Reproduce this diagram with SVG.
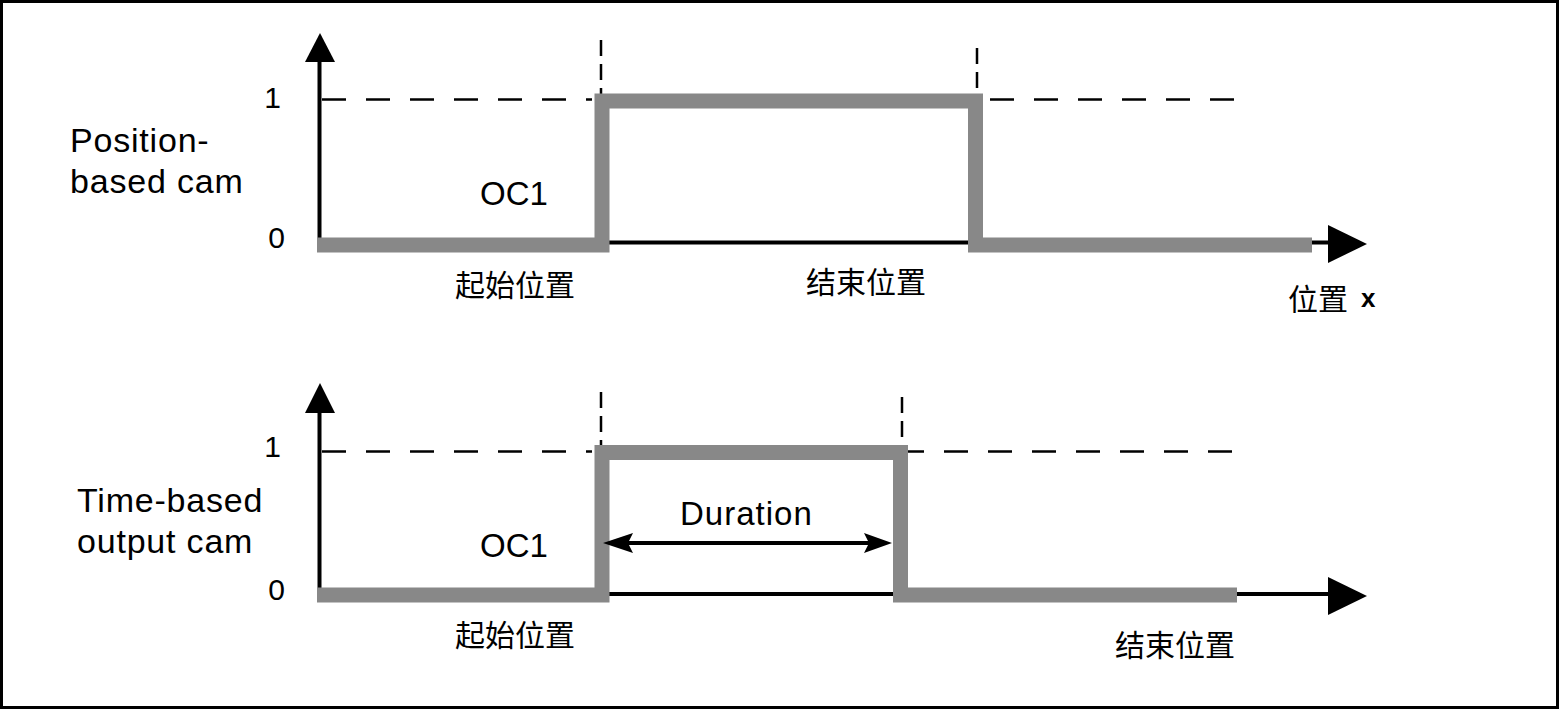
<svg xmlns="http://www.w3.org/2000/svg" width="1560" height="709" viewBox="0 0 1560 709">
<style>
.lbl{font-family:"Liberation Sans",Arial,sans-serif;fill:#000}
.wide{letter-spacing:0.8px}
.cjk{font-family:"Noto Sans CJK SC","Noto Sans CJK JP",sans-serif;font-size:30px;fill:#000}
.sig{fill:none;stroke:#888;stroke-width:15;stroke-linejoin:miter;stroke-linecap:butt}
.ax{stroke:#000;stroke-width:4;fill:none}
.hd{stroke:#000;stroke-width:2.5;fill:none;stroke-dasharray:24 20}
.vd{stroke:#000;stroke-width:2.5;fill:none;stroke-dasharray:16 8}
.ah{fill:#000}
</style>
<rect x="1.5" y="1.5" width="1556" height="706" fill="#fff" stroke="#000" stroke-width="3"/>

<g id="chart-top">
  <g id="top-grid">
    <path class="hd" d="M322 99.5H592"/>
    <path class="hd" d="M990 99.5H1237"/>
    <path class="vd" d="M601 40V108"/>
    <path class="vd" d="M977 48V117"/>
  </g>
  <g id="top-axes">
    <path class="ax" d="M319.5 60V245"/>
    <polygon class="ah" points="305,62 320,33 335,62"/>
    <path class="ax" d="M319 242.5H1330"/>
    <polygon class="ah" points="1328,225 1367,244 1328,263"/>
  </g>
  <g id="top-signal">
    <path class="sig" d="M317 245H602V101H975.5V245H1312"/>
  </g>
  <g id="top-labels">
    <text class="lbl" x="281" y="108" font-size="30" text-anchor="end">1</text>
    <text class="lbl" x="285" y="248" font-size="30" text-anchor="end">0</text>
    <text class="lbl wide" x="70" y="152" font-size="34">Position-</text>
    <text class="lbl wide" x="70" y="193" font-size="34">based cam</text>
    <text class="lbl" x="480" y="205" font-size="33">OC1</text>
    <text class="cjk" x="455" y="296">起始位置</text>
    <text class="cjk" x="806" y="293">结束位置</text>
    <text class="cjk" x="1288" y="310">位置</text>
    <text class="lbl" x="1361" y="307" font-size="26" font-weight="bold">x</text>
  </g>
</g>

<g id="chart-bottom">
  <g id="bottom-grid">
    <path class="hd" d="M322 451.5H592"/>
    <path class="hd" d="M900 451.5H1237"/>
    <path class="vd" d="M601 392V460"/>
    <path class="vd" d="M902 397V467"/>
  </g>
  <g id="bottom-axes">
    <path class="ax" d="M319.5 411V597"/>
    <polygon class="ah" points="305,413 320,383 335,413"/>
    <path class="ax" d="M319 594H1330"/>
    <polygon class="ah" points="1328,577 1367,596 1328,615"/>
  </g>
  <g id="bottom-signal">
    <path class="sig" d="M317 595H602V452.5H900.5V595H1237"/>
  </g>
  <g id="duration">
    <path class="ax" d="M620 543H876" stroke-width="5"/>
    <polygon class="ah" points="603,543 633,533 628,543 633,553"/>
    <polygon class="ah" points="892,543 864,533 869,543 864,553"/>
    <text class="lbl" x="680" y="525" font-size="33" letter-spacing="1">Duration</text>
  </g>
  <g id="bottom-labels">
    <text class="lbl" x="281" y="457" font-size="30" text-anchor="end">1</text>
    <text class="lbl" x="285" y="600" font-size="30" text-anchor="end">0</text>
    <text class="lbl wide" x="77" y="512" font-size="34">Time-based</text>
    <text class="lbl wide" x="77" y="553" font-size="34">output cam</text>
    <text class="lbl" x="480" y="557" font-size="33">OC1</text>
    <text class="cjk" x="455" y="646">起始位置</text>
    <text class="cjk" x="1115" y="656">结束位置</text>
  </g>
</g>
</svg>
